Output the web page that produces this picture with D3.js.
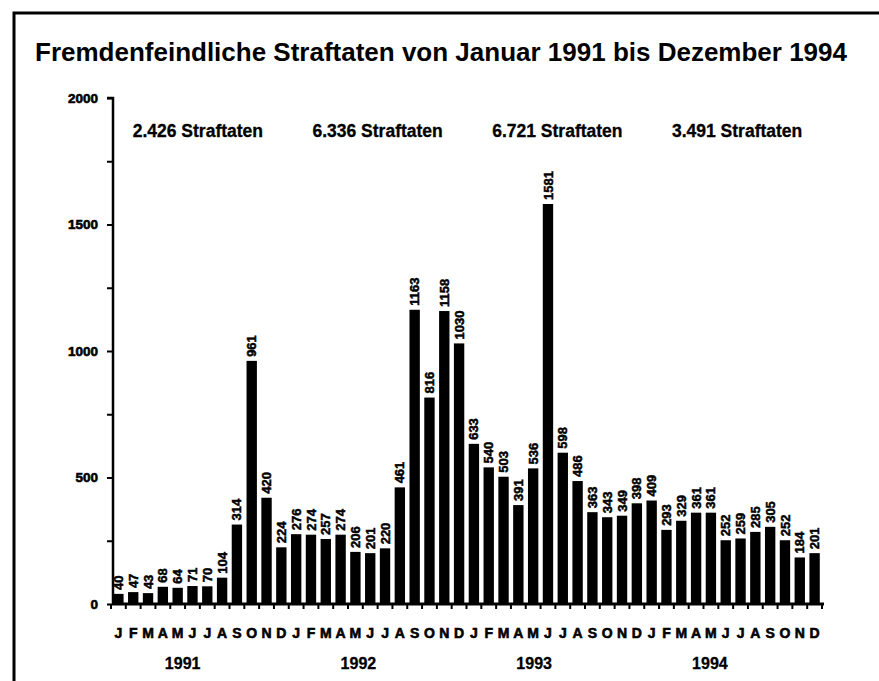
<!DOCTYPE html>
<html lang="de">
<head>
<meta charset="UTF-8">
<title>Fremdenfeindliche Straftaten</title>
<style>
  body { margin: 0; background: #fff; }
  svg { display: block; font-family: "Liberation Sans", Arial, sans-serif; }
  .bar-label { font-size: 13px; font-weight: bold; stroke: #000; stroke-width: 0.5px; }
  .month { font-size: 14px; font-weight: bold; text-anchor: middle; stroke: #000; stroke-width: 0.6px; }
  .year { font-size: 16px; font-weight: bold; text-anchor: middle; stroke: #000; stroke-width: 0.3px; }
  .total { font-size: 17.5px; font-weight: bold; text-anchor: middle; stroke: #000; stroke-width: 0.3px; }
  .ylab { font-size: 13.5px; font-weight: bold; text-anchor: end; stroke: #000; stroke-width: 0.6px; }
</style>
</head>
<body>
<div id="chart"></div>
<script src="https://cdnjs.cloudflare.com/ajax/libs/d3/7.8.5/d3.min.js"></script>
<script>
// monthly values, Jan 1991 .. Dec 1994
var values1991 = [40, 47, 43, 68, 64, 71, 70, 104, 314, 961, 420, 224];
var values1992 = [276, 274, 257, 274, 206, 201, 220, 461, 1163, 816, 1158, 1030];
var values1993 = [633, 540, 503, 391, 536, 1581, 598, 486, 363, 343, 349, 398];
var values1994 = [409, 293, 329, 361, 361, 252, 259, 285, 305, 252, 184, 201];
var years = ["1991", "1992", "1993", "1994"];
var totals = ["2.426 Straftaten", "6.336 Straftaten", "6.721 Straftaten", "3.491 Straftaten"];
var months = ["J", "F", "M", "A", "M", "J", "J", "A", "S", "O", "N", "D"];
var yTicks = [0, 500, 1000, 1500, 2000];

var width = 879, height = 681;
var values = values1991.concat(values1992, values1993, values1994);

var svg = d3.select("#chart").append("svg")
    .attr("width", width)
    .attr("height", height);

// outer frame (runs off the right and bottom edge)
svg.append("rect")
    .attr("x", 14).attr("y", 13)
    .attr("width", 900).attr("height", 700)
    .attr("fill", "none")
    .attr("stroke", "#000")
    .attr("stroke-width", 3);

svg.append("text")
    .attr("x", 441).attr("y", 61)
    .attr("text-anchor", "middle")
    .attr("font-size", 25)
    .attr("font-weight", "bold")
    .attr("textLength", 812)
    .attr("lengthAdjust", "spacingAndGlyphs")
    .text("Fremdenfeindliche Straftaten von Januar 1991 bis Dezember 1994");

var x = d3.scaleBand()
    .domain(d3.range(values.length))
    .range([111, 822])
    .paddingInner(0.3)
    .paddingOuter(0.15);

var y = d3.scaleLinear()
    .domain([0, 2000])
    .range([604, 98]);

// y axis
var yAxis = d3.axisLeft(y)
    .tickValues(d3.range(0, 2001, 250))
    .tickSize(6)
    .tickFormat(d => yTicks.includes(d) ? d : "");
var gy = svg.append("g")
    .attr("transform", "translate(113,0)")
    .call(yAxis);
gy.select(".domain").attr("stroke-width", 2.5).attr("d", "M-6," + y(2000) + "H0V" + y(0));
gy.selectAll(".tick line").attr("stroke-width", 2);
gy.selectAll(".tick text")
    .attr("class", "ylab")
    .attr("x", -15)
    .attr("font-family", null).attr("font-size", null);

// x axis line with small ticks between bars
var gapX = d => x(0) - x.step() * x.paddingInner() / 2 + d * x.step();
svg.append("line")
    .attr("x1", 113).attr("x2", 824)
    .attr("y1", y(0)).attr("y2", y(0))
    .attr("stroke", "#000").attr("stroke-width", 3);
svg.selectAll(".xtick")
    .data(d3.range(values.length + 1))
    .enter().append("line")
    .attr("x1", gapX).attr("x2", gapX)
    .attr("y1", y(0)).attr("y2", y(0) + 5)
    .attr("stroke", "#000").attr("stroke-width", 2);

// bars
svg.selectAll(".bar")
    .data(values)
    .enter().append("rect")
    .attr("class", "bar")
    .attr("x", (d, i) => x(i))
    .attr("width", x.bandwidth())
    .attr("y", d => y(d))
    .attr("height", d => y(0) - y(d))
    .attr("fill", "#000");

// value labels, rotated
svg.selectAll(".bar-label")
    .data(values)
    .enter().append("text")
    .attr("class", "bar-label")
    .attr("transform", (d, i) => "translate(" + (x(i) + x.bandwidth() / 2) + "," + (y(d) - 4) + ") rotate(-90)")
    .attr("dy", "0.35em")
    .text(d => d);

// month letters
svg.selectAll(".month")
    .data(values)
    .enter().append("text")
    .attr("class", "month")
    .attr("x", (d, i) => x(i) + x.bandwidth() / 2)
    .attr("y", 638)
    .text((d, i) => months[i % 12]);

// year labels
svg.selectAll(".year")
    .data(years)
    .enter().append("text")
    .attr("class", "year")
    .attr("x", (d, i) => x(i * 12 + 4) + x.bandwidth() / 2 + 5 - i * 2)
    .attr("y", 669)
    .text(d => d);

// yearly totals
svg.selectAll(".total")
    .data(totals)
    .enter().append("text")
    .attr("class", "total")
    .attr("x", (d, i) => (x(i * 12) + x(i * 12 + 11) + x.bandwidth()) / 2 - 2 + i * 2)
    .attr("y", 137)
    .text(d => d);
</script>
</body>
</html>
